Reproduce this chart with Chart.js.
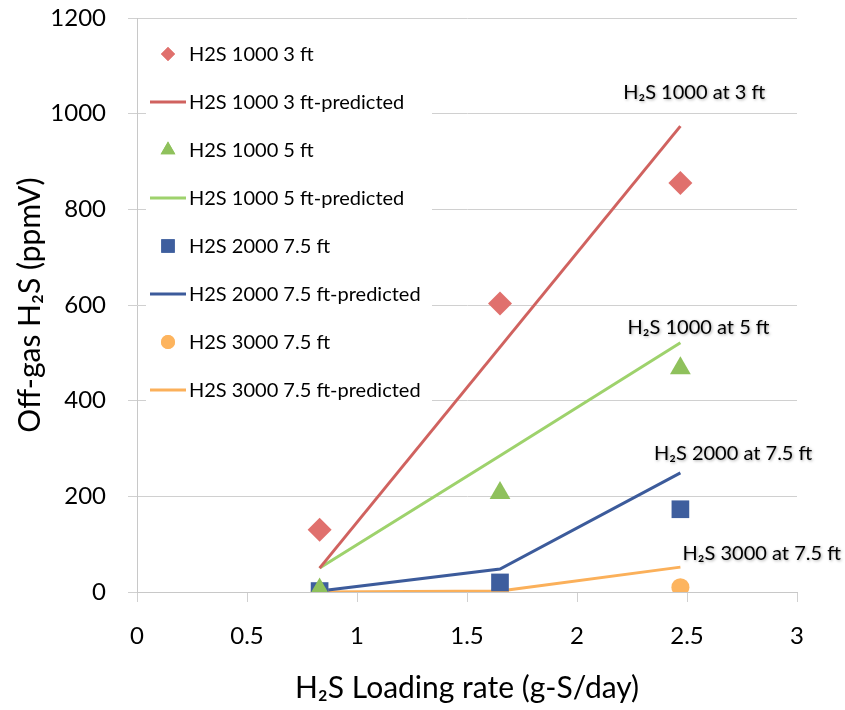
<!DOCTYPE html>
<html>
<head>
<meta charset="utf-8">
<script src="https://cdn.jsdelivr.net/npm/chart.js@4"></script>
<style>
  html, body { margin: 0; padding: 0; background: #fff; }
  #wrap { width: 845px; height: 710px; }
</style>
</head>
<body>
<div id="wrap"><canvas id="h2sChart" width="845" height="710"></canvas></div>
<script>
// loading rates (g-S/day) at which the runs were done
var loadingRates = [0.83, 1.65, 2.47];

// measured off-gas H2S (ppmV)
var meas1000at3 = [130, 603, 855];
var meas1000at5 = [5, 207, 468];
var meas2000at75 = [2, 20, 173];
var meas3000at75 = [0, 0, 10];

// model predictions (ppmV)
var pred1000at3 = [50, 512, 974];
var pred1000at5 = [50, 285, 521];
var pred2000at75 = [2, 48, 249];
var pred3000at75 = [0, 2, 52];

var seriesLabels = [
  'H2S 1000 3 ft', 'H2S 1000 3 ft-predicted',
  'H2S 1000 5 ft', 'H2S 1000 5 ft-predicted',
  'H2S 2000 7.5 ft', 'H2S 2000 7.5 ft-predicted',
  'H2S 3000 7.5 ft', 'H2S 3000 7.5 ft-predicted'
];

var xTicks = [0, 0.5, 1, 1.5, 2, 2.5, 3];
var yTicks = [0, 200, 400, 600, 800, 1000, 1200];

// line labels, placed in data units
var noteText = ['H\u2082S 1000 at 3 ft', 'H\u2082S 1000 at 5 ft', 'H\u2082S 2000 at 7.5 ft', 'H\u2082S 3000 at 7.5 ft'];
var noteX = [2.21, 2.23, 2.35, 2.48];
var noteY = [1045, 553, 290, 80];

var FONT = "Lato, 'DejaVu Sans', sans-serif";

function pts(ys) {
  return loadingRates.map(function (x, i) { return {x: x, y: ys[i]}; });
}

function markerSet(label, ys, color, shape, r, legR) {
  return {
    label: label, data: pts(ys), showLine: false,
    pointStyle: shape, pointRadius: r, pointHoverRadius: r, legendRadius: legR,
    backgroundColor: color, borderColor: color, pointBorderWidth: 0
  };
}

function lineSet(label, ys, color) {
  return {
    label: label, data: pts(ys), showLine: true,
    borderColor: color, backgroundColor: color, borderWidth: 3,
    pointRadius: 0, pointHoverRadius: 0, tension: 0
  };
}

var datasets = [
  markerSet(seriesLabels[0], meas1000at3, '#E0706D', 'rectRot', 12, 7),
  lineSet(seriesLabels[1], pred1000at3, '#D0625F'),
  markerSet(seriesLabels[2], meas1000at5, '#8FC15C', 'triangle', 12, 8.5),
  lineSet(seriesLabels[3], pred1000at5, '#9ED26C'),
  markerSet(seriesLabels[4], meas2000at75, '#3E5E9E', 'rect', 12.5, 9.5),
  lineSet(seriesLabels[5], pred2000at75, '#3C5B9B'),
  markerSet(seriesLabels[6], meas3000at75, '#FDB45E', 'circle', 9, 7),
  lineSet(seriesLabels[7], pred3000at75, '#FBB05A')
];
// lines under markers, as in the original
datasets.forEach(function (d, i) { d.order = (i % 2 === 1) ? 2 : 1; });

var insideLegend = {
  id: 'insideLegend',
  afterDatasetsDraw: function (chart) {
    var ctx = chart.ctx;
    ctx.save();
    ctx.fillStyle = '#fff';
    ctx.fillRect(146, 26, 286, 380);
    ctx.font = '20px ' + FONT;
    ctx.textBaseline = 'middle';
    chart.data.datasets.forEach(function (d, i) {
      var y = 54 + i * 48;
      if (d.showLine) {
        ctx.strokeStyle = d.borderColor;
        ctx.lineWidth = 3;
        ctx.beginPath();
        ctx.moveTo(150, y);
        ctx.lineTo(186, y);
        ctx.stroke();
      } else {
        ctx.fillStyle = d.backgroundColor;
        Chart.helpers.drawPoint(ctx, {pointStyle: d.pointStyle, radius: d.legendRadius, rotation: 0, borderWidth: 0}, 168, y);
        ctx.fill();
      }
      ctx.fillStyle = '#000';
      ctx.fillText(d.label, 189, y + 1);
    });
    ctx.restore();
  }
};

var lineNotes = {
  id: 'lineNotes',
  afterDatasetsDraw: function (chart) {
    var ctx = chart.ctx, xs = chart.scales.x, ys = chart.scales.y;
    ctx.save();
    ctx.font = '20px ' + FONT;
    ctx.textBaseline = 'middle';
    ctx.fillStyle = '#000';
    ctx.shadowColor = 'rgba(0,0,0,0.35)';
    ctx.shadowBlur = 3;
    ctx.shadowOffsetX = 1;
    ctx.shadowOffsetY = 1;
    noteText.forEach(function (t, i) {
      ctx.fillText(t, xs.getPixelForValue(noteX[i]), ys.getPixelForValue(noteY[i]));
    });
    ctx.restore();
  }
};

var myChart = new Chart(document.getElementById('h2sChart'), {
  type: 'scatter',
  data: {datasets: datasets},
  plugins: [insideLegend, lineNotes],
  options: {
    responsive: false,
    animation: false,
    layout: {padding: {left: 8, right: 48, top: 18, bottom: 4}},
    plugins: {legend: {display: false}, tooltip: {enabled: false}},
    scales: {
      x: {
        type: 'linear', min: 0, max: 3,
        afterBuildTicks: function (s) { s.ticks = xTicks.map(function (v) { return {value: v}; }); },
        afterFit: function (s) { s.height = 114; s.paddingTop = 0; s.paddingLeft = 0; s.paddingRight = 0; },
        grid: {drawOnChartArea: false, drawTicks: true, tickLength: 10, color: '#D0D0D0'},
        border: {color: '#C8C8C8', width: 1},
        ticks: {padding: 20, color: '#000', font: {family: FONT, size: 24},
          callback: function (v) { return String(v); }},
        title: {display: true, text: 'H\u2082S Loading rate (g-S/day)', color: '#000',
          font: {family: FONT, size: 30}, padding: {top: 0, bottom: 0}}
      },
      y: {
        type: 'linear', min: 0, max: 1200,
        afterBuildTicks: function (s) { s.ticks = yTicks.map(function (v) { return {value: v}; }); },
        afterFit: function (s) { s.width = 129; s.paddingTop = 0; s.paddingBottom = 0; },
        grid: {drawTicks: true, tickLength: 9, color: '#D0D0D0'},
        border: {color: '#C8C8C8', width: 1},
        ticks: {padding: 22, color: '#000', font: {family: FONT, size: 24},
          callback: function (v) { return String(v); }},
        title: {display: true, text: 'Off-gas H\u2082S (ppmV)', color: '#000',
          font: {family: FONT, size: 30}, padding: {top: 4, bottom: 0}}
      }
    }
  }
});
</script>
</body>
</html>
